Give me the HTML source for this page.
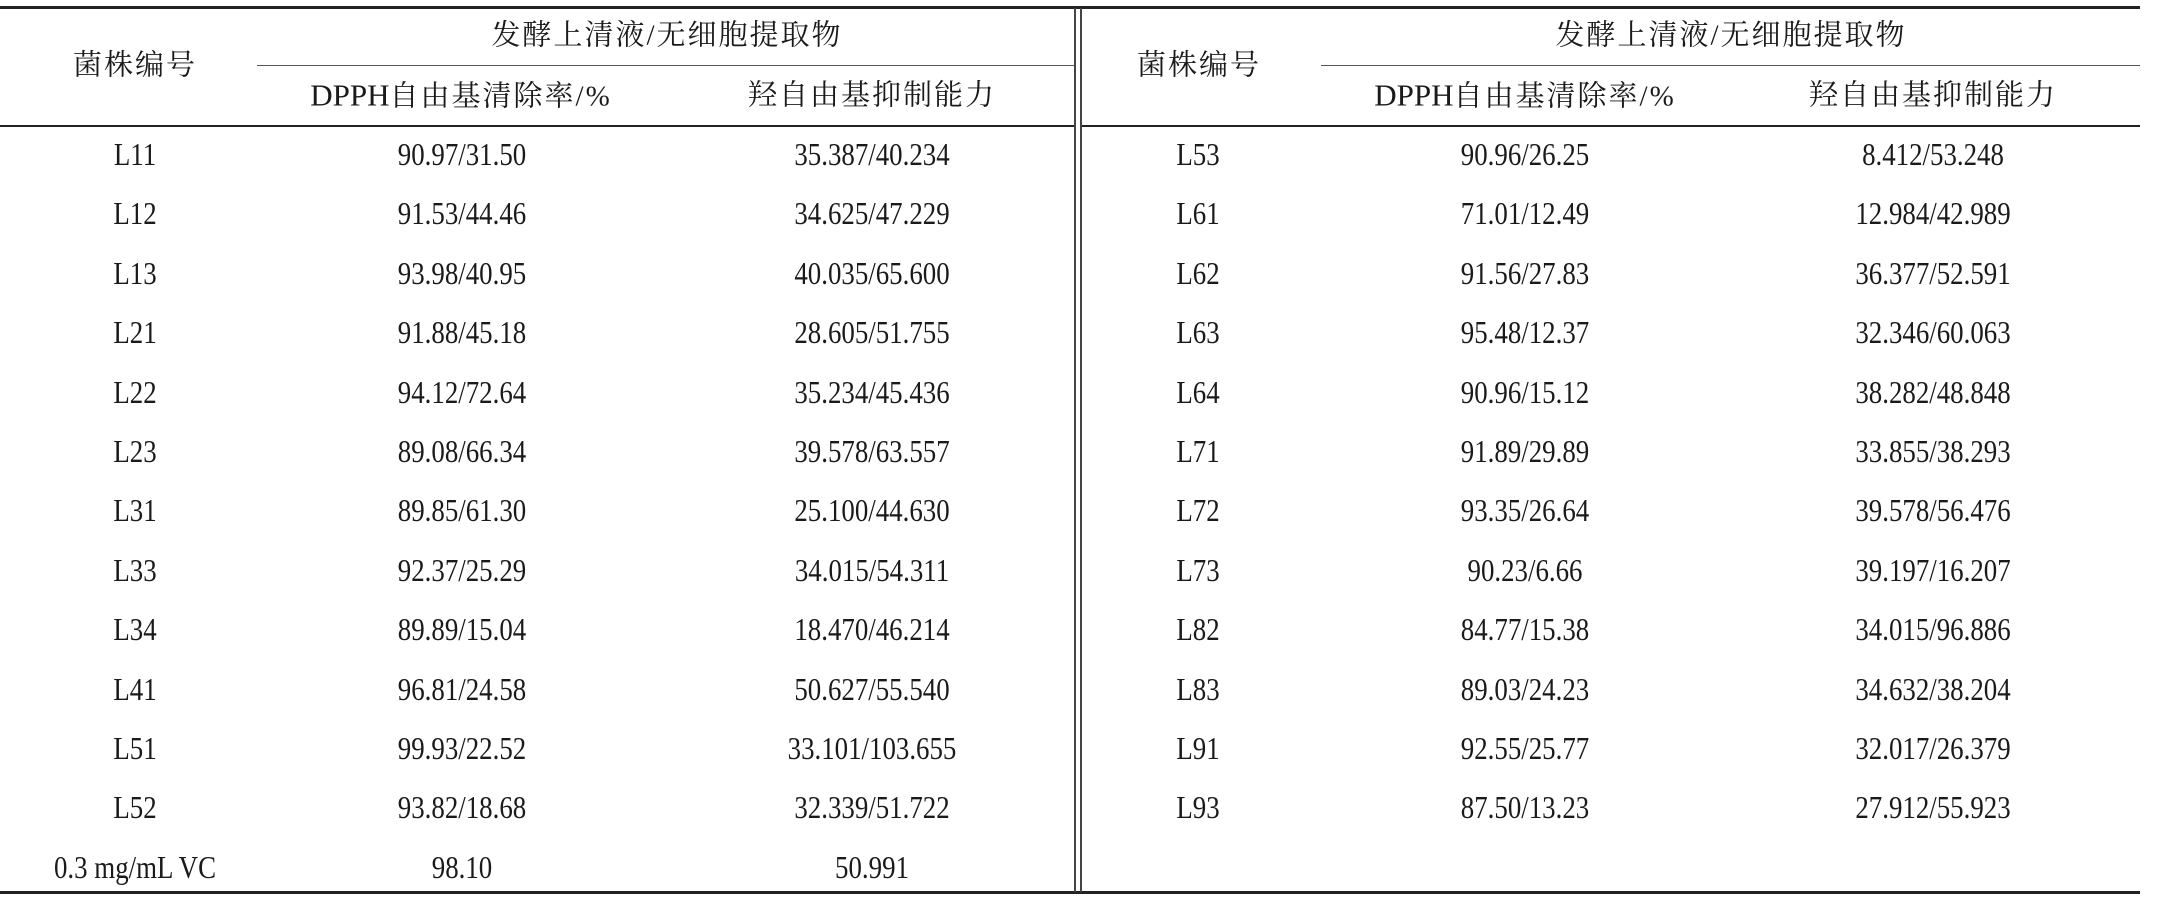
<!DOCTYPE html>
<html><head><meta charset="utf-8"><style>
html,body{margin:0;padding:0;background:#fff;}
body{width:2180px;height:903px;position:relative;overflow:hidden;font-family:"Liberation Serif","Noto Serif CJK SC",serif;color:#1a1a1a;}
.t{position:absolute;white-space:nowrap;font-size:32px;line-height:32px;transform:translate(-50%,-50%) scaleX(0.84);}
.c{position:absolute;white-space:nowrap;font-size:29px;line-height:31px;transform:translate(-50%,-50%);letter-spacing:2px;}
.c span{letter-spacing:0;font-size:31px;}
.h{position:absolute;background:#222;}
</style></head><body>
<div class="h" style="left:0;top:6px;width:2140px;height:3px"></div>
<div class="h" style="left:0;top:125px;width:1076px;height:2px"></div>
<div class="h" style="left:1081px;top:125px;width:1059px;height:2px"></div>
<div class="h" style="left:257px;top:65px;width:819px;height:1px;background:#555"></div>
<div class="h" style="left:1321px;top:65px;width:819px;height:1px;background:#555"></div>
<div class="h" style="left:0;top:891px;width:2140px;height:3px"></div>
<div class="h" style="left:1074px;top:8px;width:1.5px;height:884px;background:#444"></div>
<div class="h" style="left:1080px;top:8px;width:1.5px;height:884px;background:#444"></div>

<div class="c" style="left:135px;top:66px">菌株编号</div>
<div class="c" style="left:667px;top:36px">发酵上清液/无细胞提取物</div>
<div class="c" style="left:461px;top:96px"><span>DPPH</span>自由基清除率/%</div>
<div class="c" style="left:872px;top:96px">羟自由基抑制能力</div>
<div class="c" style="left:1199px;top:66px">菌株编号</div>
<div class="c" style="left:1731px;top:36px">发酵上清液/无细胞提取物</div>
<div class="c" style="left:1525px;top:96px"><span>DPPH</span>自由基清除率/%</div>
<div class="c" style="left:1933px;top:96px">羟自由基抑制能力</div>

<div id="rows"></div>
<script>
var L=[["L11","90.97/31.50","35.387/40.234"],["L12","91.53/44.46","34.625/47.229"],["L13","93.98/40.95","40.035/65.600"],["L21","91.88/45.18","28.605/51.755"],["L22","94.12/72.64","35.234/45.436"],["L23","89.08/66.34","39.578/63.557"],["L31","89.85/61.30","25.100/44.630"],["L33","92.37/25.29","34.015/54.311"],["L34","89.89/15.04","18.470/46.214"],["L41","96.81/24.58","50.627/55.540"],["L51","99.93/22.52","33.101/103.655"],["L52","93.82/18.68","32.339/51.722"],["0.3 mg/mL VC","98.10","50.991"]];
var R=[["L53","90.96/26.25","8.412/53.248"],["L61","71.01/12.49","12.984/42.989"],["L62","91.56/27.83","36.377/52.591"],["L63","95.48/12.37","32.346/60.063"],["L64","90.96/15.12","38.282/48.848"],["L71","91.89/29.89","33.855/38.293"],["L72","93.35/26.64","39.578/56.476"],["L73","90.23/6.66","39.197/16.207"],["L82","84.77/15.38","34.015/96.886"],["L83","89.03/24.23","34.632/38.204"],["L91","92.55/25.77","32.017/26.379"],["L93","87.50/13.23","27.912/55.923"]];
var h="";
function add(rows,xs){rows.forEach(function(r,i){var y=154+i*59.4;for(var j=0;j<3;j++){h+='<div class="t" style="left:'+xs[j]+'px;top:'+y+'px">'+r[j]+'</div>';}});}
add(L,[135,462,872]);add(R,[1198,1525,1933]);
document.getElementById("rows").innerHTML=h;
</script>
</body></html>
